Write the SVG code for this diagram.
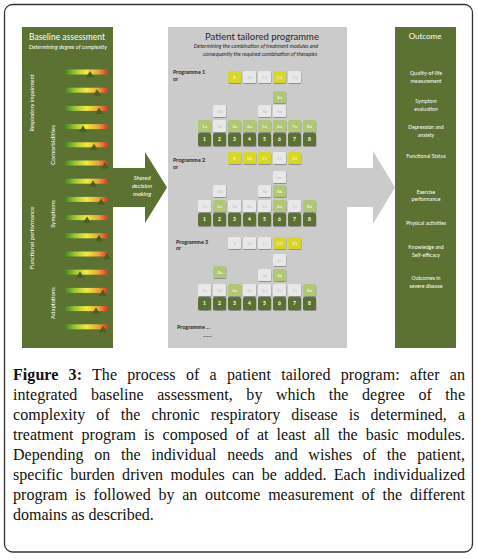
<svg xmlns="http://www.w3.org/2000/svg" width="477" height="559" viewBox="0 0 477 559">
<defs>
<linearGradient id="bar" x1="0" y1="0" x2="1" y2="0">
<stop offset="0" stop-color="#3f8a1e"/>
<stop offset="0.25" stop-color="#a7c834"/>
<stop offset="0.5" stop-color="#f2ea3c"/>
<stop offset="0.78" stop-color="#eba23a"/>
<stop offset="1" stop-color="#d8332a"/>
</linearGradient>
<linearGradient id="shine" x1="0" y1="0" x2="0" y2="1">
<stop offset="0" stop-color="#fff" stop-opacity="0.35"/>
<stop offset="0.5" stop-color="#fff" stop-opacity="0"/>
<stop offset="1" stop-color="#000" stop-opacity="0.15"/>
</linearGradient>
<filter id="sh" x="-20%" y="-20%" width="150%" height="160%">
<feDropShadow dx="0.4" dy="1" stdDeviation="0.6" flood-color="#000" flood-opacity="0.3"/>
</filter>
</defs>
<style>
.green{fill:#5b7232}
.gray{fill:#cbcbcb}
.wt{fill:#ffffff;font-family:Lato,"Liberation Sans",sans-serif}
.dk{fill:#262626;font-family:Lato,"Liberation Sans",sans-serif}
.bd{fill:#5a7130;filter:url(#sh)}
.bl{fill:#b2c773;filter:url(#sh)}
.by{fill:#d9d62b;filter:url(#sh)}
.bw{fill:#e8e8e8;filter:url(#sh)}
.tb{fill:#ffffff;font-family:Lato,"Liberation Sans",sans-serif;font-size:4.6px;text-anchor:middle}
.tw{fill:#c4c4c4;font-family:Lato,"Liberation Sans",sans-serif;font-size:4.6px;text-anchor:middle}
.tk{fill:#ffffff;font-family:Lato,"Liberation Sans",sans-serif;font-size:5px;font-weight:bold;text-anchor:middle}
.bar{fill:url(#bar)}
.mk{fill:#4b5f22}
.cap{font-family:"Liberation Serif",serif;font-size:16px;fill:#111}
</style>
<rect x="4.5" y="4.5" width="468" height="547.5" rx="8" fill="#fff" stroke="#333" stroke-width="1.3"/>

<g id="connectors">
<polygon class="green" points="112,168 145,168 145,152 167,187.5 145,223 145,207 112,207"/>
<polygon class="gray" points="346,168 373,168 373,151 395,187.5 373,224 373,207 346,207"/>
<text class="wt" font-size="6" font-style="italic" text-anchor="middle"><tspan x="142" y="179.5">Shared</tspan><tspan x="142" y="187.5">decision</tspan><tspan x="142" y="195.5">making</tspan></text>
</g>

<g id="baseline">
<rect class="green" x="22" y="27" width="91" height="321"/>
<text class="wt" x="67" y="40" font-size="8.5" text-anchor="middle">Baseline assessment</text>
<text class="wt" x="68" y="49" font-size="5.6" font-style="italic" text-anchor="middle">Determining degree of complexity</text>
<text class="wt" font-size="5.6" text-anchor="middle" transform="translate(34,103) rotate(-90)">Respiratory impairment</text>
<text class="wt" font-size="6.5" text-anchor="middle" transform="translate(55,145) rotate(-90)">Comorbidities</text>
<text class="wt" font-size="6" text-anchor="middle" transform="translate(34,238) rotate(-90)">Functional performance</text>
<text class="wt" font-size="6" text-anchor="middle" transform="translate(55,214) rotate(-90)">Symptoms</text>
<text class="wt" font-size="6" text-anchor="middle" transform="translate(55,303) rotate(-90)">Adaptations</text>
<g id="bars">
<rect class="bar" x="65" y="69.5" width="43" height="5"/><polygon class="mk" points="90,71 86,77.5 94,77.5"/>
<rect class="bar" x="65" y="87.7" width="43" height="5"/><polygon class="mk" points="97,89.2 93,95.7 101,95.7"/>
<rect class="bar" x="65" y="105.9" width="43" height="5"/><polygon class="mk" points="99,107.4 95,113.9 103,113.9"/>
<rect class="bar" x="65" y="124.1" width="43" height="5"/><polygon class="mk" points="83,125.6 79,132.1 87,132.1"/>
<rect class="bar" x="65" y="142.3" width="43" height="5"/><polygon class="mk" points="94,143.8 90,150.3 98,150.3"/>
<rect class="bar" x="65" y="160.5" width="43" height="5"/><polygon class="mk" points="105,162 101,168.5 109,168.5"/>
<rect class="bar" x="65" y="178.7" width="43" height="5"/><polygon class="mk" points="93,180.2 89,186.7 97,186.7"/>
<rect class="bar" x="65" y="196.9" width="43" height="5"/><polygon class="mk" points="101,198.4 97,204.9 105,204.9"/>
<rect class="bar" x="65" y="215.1" width="43" height="5"/><polygon class="mk" points="87,216.6 83,223.1 91,223.1"/>
<rect class="bar" x="65" y="233.3" width="43" height="5"/><polygon class="mk" points="99,234.8 95,241.3 103,241.3"/>
<rect class="bar" x="65" y="251.5" width="43" height="5"/><polygon class="mk" points="107,253 103,259.5 111,259.5"/>
<rect class="bar" x="65" y="269.7" width="43" height="5"/><polygon class="mk" points="80,271.2 76,277.7 84,277.7"/>
<rect class="bar" x="65" y="287.9" width="43" height="5"/><polygon class="mk" points="103,289.4 99,295.9 107,295.9"/>
<rect class="bar" x="65" y="306.1" width="43" height="5"/><polygon class="mk" points="96,307.6 92,314.1 100,314.1"/>
<rect class="bar" x="65" y="324.3" width="43" height="5"/><polygon class="mk" points="103,325.8 99,332.3 107,332.3"/>
</g>
</g>

<g id="programme">
<rect class="gray" x="168" y="27" width="179" height="321"/>
<text class="dk" x="262" y="40" font-size="9.5" text-anchor="middle">Patient tailored programme</text>
<text class="dk" font-size="5.4" font-style="italic" text-anchor="middle"><tspan x="256" y="48">Determining the combination of treatment modules and</tspan><tspan x="260" y="55.5">consequently the required combination of therapies</tspan></text>

<g id="prog1">
<text class="dk" font-size="5.4" font-weight="bold"><tspan x="173" y="74">Programme 1</tspan><tspan x="173" y="80.5">or</tspan></text>
<rect class="by" x="228" y="71" width="13" height="12" rx="1.5"/><text class="tb" x="234.5" y="78.6">9</text>
<rect class="bw" x="243" y="71" width="13" height="12" rx="1.5"/><text class="tw" x="249.5" y="78.6">10</text>
<rect class="bw" x="258" y="71" width="13" height="12" rx="1.5"/><text class="tw" x="264.5" y="78.6">11</text>
<rect class="by" x="273" y="71" width="13" height="12" rx="1.5"/><text class="tb" x="279.5" y="78.6">12</text>
<rect class="bw" x="288" y="71" width="13" height="12" rx="1.5"/><text class="tw" x="294.5" y="78.6">13</text>
<rect class="bl" x="273" y="91" width="13" height="12" rx="1.5"/><text class="tb" x="279.5" y="98.6">6c</text>
<rect class="bw" x="213" y="105" width="13" height="12" rx="1.5"/><text class="tw" x="219.5" y="112.6">2b</text>
<rect class="bw" x="258" y="105" width="13" height="12" rx="1.5"/><text class="tw" x="264.5" y="112.6">5b</text>
<rect class="bw" x="273" y="105" width="13" height="12" rx="1.5"/><text class="tw" x="279.5" y="112.6">6b</text>
<rect class="bl" x="198" y="120" width="13" height="12" rx="1.5"/><text class="tb" x="204.5" y="127.6">1a</text>
<rect class="bw" x="213" y="120" width="13" height="12" rx="1.5"/><text class="tw" x="219.5" y="127.6">2a</text>
<rect class="bl" x="228" y="120" width="13" height="12" rx="1.5"/><text class="tb" x="234.5" y="127.6">3a</text>
<rect class="bl" x="243" y="120" width="13" height="12" rx="1.5"/><text class="tb" x="249.5" y="127.6">4a</text>
<rect class="bl" x="258" y="120" width="13" height="12" rx="1.5"/><text class="tb" x="264.5" y="127.6">5a</text>
<rect class="bl" x="273" y="120" width="13" height="12" rx="1.5"/><text class="tb" x="279.5" y="127.6">6a</text>
<rect class="bl" x="288" y="120" width="13" height="12" rx="1.5"/><text class="tb" x="294.5" y="127.6">7a</text>
<rect class="bl" x="303" y="120" width="13" height="12" rx="1.5"/><text class="tb" x="309.5" y="127.6">8a</text>
<rect class="bd" x="198" y="133" width="13" height="13" rx="1.5"/><text class="tk" x="204.5" y="141.2">1</text>
<rect class="bd" x="213" y="133" width="13" height="13" rx="1.5"/><text class="tk" x="219.5" y="141.2">2</text>
<rect class="bd" x="228" y="133" width="13" height="13" rx="1.5"/><text class="tk" x="234.5" y="141.2">3</text>
<rect class="bd" x="243" y="133" width="13" height="13" rx="1.5"/><text class="tk" x="249.5" y="141.2">4</text>
<rect class="bd" x="258" y="133" width="13" height="13" rx="1.5"/><text class="tk" x="264.5" y="141.2">5</text>
<rect class="bd" x="273" y="133" width="13" height="13" rx="1.5"/><text class="tk" x="279.5" y="141.2">6</text>
<rect class="bd" x="288" y="133" width="13" height="13" rx="1.5"/><text class="tk" x="294.5" y="141.2">7</text>
<rect class="bd" x="303" y="133" width="13" height="13" rx="1.5"/><text class="tk" x="309.5" y="141.2">8</text>
</g>

<g id="prog2">
<text class="dk" font-size="5.4" font-weight="bold"><tspan x="173" y="162">Programme 2</tspan><tspan x="173" y="168.5">or</tspan></text>
<rect class="by" x="228" y="152" width="13" height="12" rx="1.5"/><text class="tb" x="234.5" y="159.6">9</text>
<rect class="by" x="243" y="152" width="13" height="12" rx="1.5"/><text class="tb" x="249.5" y="159.6">10</text>
<rect class="by" x="258" y="152" width="13" height="12" rx="1.5"/><text class="tb" x="264.5" y="159.6">11</text>
<rect class="bw" x="273" y="152" width="13" height="12" rx="1.5"/><text class="tw" x="279.5" y="159.6">12</text>
<rect class="by" x="288" y="152" width="13" height="12" rx="1.5"/><text class="tb" x="294.5" y="159.6">13</text>
<rect class="bw" x="273" y="171" width="13" height="12" rx="1.5"/><text class="tw" x="279.5" y="178.6">6c</text>
<rect class="bw" x="213" y="185" width="13" height="12" rx="1.5"/><text class="tw" x="219.5" y="192.6">2b</text>
<rect class="bw" x="258" y="185" width="13" height="12" rx="1.5"/><text class="tw" x="264.5" y="192.6">5b</text>
<rect class="bl" x="273" y="185" width="13" height="12" rx="1.5"/><text class="tb" x="279.5" y="192.6">6b</text>
<rect class="bw" x="198" y="200" width="13" height="12" rx="1.5"/><text class="tw" x="204.5" y="207.6">1a</text>
<rect class="bl" x="213" y="200" width="13" height="12" rx="1.5"/><text class="tb" x="219.5" y="207.6">2a</text>
<rect class="bw" x="228" y="200" width="13" height="12" rx="1.5"/><text class="tw" x="234.5" y="207.6">3a</text>
<rect class="bw" x="243" y="200" width="13" height="12" rx="1.5"/><text class="tw" x="249.5" y="207.6">4a</text>
<rect class="bw" x="258" y="200" width="13" height="12" rx="1.5"/><text class="tw" x="264.5" y="207.6">5a</text>
<rect class="bl" x="273" y="200" width="13" height="12" rx="1.5"/><text class="tb" x="279.5" y="207.6">6a</text>
<rect class="bw" x="288" y="200" width="13" height="12" rx="1.5"/><text class="tw" x="294.5" y="207.6">7a</text>
<rect class="bl" x="303" y="200" width="13" height="12" rx="1.5"/><text class="tb" x="309.5" y="207.6">8a</text>
<rect class="bd" x="198" y="213" width="13" height="13" rx="1.5"/><text class="tk" x="204.5" y="221.2">1</text>
<rect class="bd" x="213" y="213" width="13" height="13" rx="1.5"/><text class="tk" x="219.5" y="221.2">2</text>
<rect class="bd" x="228" y="213" width="13" height="13" rx="1.5"/><text class="tk" x="234.5" y="221.2">3</text>
<rect class="bd" x="243" y="213" width="13" height="13" rx="1.5"/><text class="tk" x="249.5" y="221.2">4</text>
<rect class="bd" x="258" y="213" width="13" height="13" rx="1.5"/><text class="tk" x="264.5" y="221.2">5</text>
<rect class="bd" x="273" y="213" width="13" height="13" rx="1.5"/><text class="tk" x="279.5" y="221.2">6</text>
<rect class="bd" x="288" y="213" width="13" height="13" rx="1.5"/><text class="tk" x="294.5" y="221.2">7</text>
<rect class="bd" x="303" y="213" width="13" height="13" rx="1.5"/><text class="tk" x="309.5" y="221.2">8</text>
</g>

<g id="prog3">
<text class="dk" font-size="5.4" font-weight="bold"><tspan x="176" y="243.5">Programme 3</tspan><tspan x="176" y="250">or</tspan></text>
<rect class="bw" x="228" y="237" width="13" height="12" rx="1.5"/><text class="tw" x="234.5" y="244.6">9</text>
<rect class="bw" x="243" y="237" width="13" height="12" rx="1.5"/><text class="tw" x="249.5" y="244.6">10</text>
<rect class="bw" x="258" y="237" width="13" height="12" rx="1.5"/><text class="tw" x="264.5" y="244.6">11</text>
<rect class="by" x="273" y="237" width="13" height="12" rx="1.5"/><text class="tb" x="279.5" y="244.6">12</text>
<rect class="by" x="288" y="237" width="13" height="12" rx="1.5"/><text class="tb" x="294.5" y="244.6">13</text>
<rect class="bw" x="273" y="254" width="13" height="12" rx="1.5"/><text class="tw" x="279.5" y="261.6">6c</text>
<rect class="bl" x="213" y="266" width="13" height="12" rx="1.5"/><text class="tb" x="219.5" y="273.6">2b</text>
<rect class="bw" x="258" y="269" width="13" height="12" rx="1.5"/><text class="tw" x="264.5" y="276.6">5b</text>
<rect class="bl" x="273" y="269" width="13" height="12" rx="1.5"/><text class="tb" x="279.5" y="276.6">6b</text>
<rect class="bw" x="198" y="284" width="13" height="12" rx="1.5"/><text class="tw" x="204.5" y="291.6">1a</text>
<rect class="bw" x="213" y="284" width="13" height="12" rx="1.5"/><text class="tw" x="219.5" y="291.6">2a</text>
<rect class="bl" x="228" y="284" width="13" height="12" rx="1.5"/><text class="tb" x="234.5" y="291.6">3a</text>
<rect class="bw" x="243" y="284" width="13" height="12" rx="1.5"/><text class="tw" x="249.5" y="291.6">4a</text>
<rect class="bw" x="258" y="284" width="13" height="12" rx="1.5"/><text class="tw" x="264.5" y="291.6">5a</text>
<rect class="bw" x="273" y="284" width="13" height="12" rx="1.5"/><text class="tw" x="279.5" y="291.6">6a</text>
<rect class="bw" x="288" y="284" width="13" height="12" rx="1.5"/><text class="tw" x="294.5" y="291.6">7a</text>
<rect class="bl" x="303" y="284" width="13" height="12" rx="1.5"/><text class="tb" x="309.5" y="291.6">8a</text>
<rect class="bd" x="198" y="297" width="13" height="13" rx="1.5"/><text class="tk" x="204.5" y="305.2">1</text>
<rect class="bd" x="213" y="297" width="13" height="13" rx="1.5"/><text class="tk" x="219.5" y="305.2">2</text>
<rect class="bd" x="228" y="297" width="13" height="13" rx="1.5"/><text class="tk" x="234.5" y="305.2">3</text>
<rect class="bd" x="243" y="297" width="13" height="13" rx="1.5"/><text class="tk" x="249.5" y="305.2">4</text>
<rect class="bd" x="258" y="297" width="13" height="13" rx="1.5"/><text class="tk" x="264.5" y="305.2">5</text>
<rect class="bd" x="273" y="297" width="13" height="13" rx="1.5"/><text class="tk" x="279.5" y="305.2">6</text>
<rect class="bd" x="288" y="297" width="13" height="13" rx="1.5"/><text class="tk" x="294.5" y="305.2">7</text>
<rect class="bd" x="303" y="297" width="13" height="13" rx="1.5"/><text class="tk" x="309.5" y="305.2">8</text>
</g>

<g id="prog-more">
<text class="dk" x="177" y="329" font-size="5.4" font-weight="bold">Programme ...</text>
<text class="dk" x="203" y="337" font-size="5.4" font-weight="bold">.......</text>
</g>
</g>

<g id="outcome">
<rect class="green" x="395" y="27" width="61" height="321"/>
<text class="wt" x="425" y="39" font-size="8" text-anchor="middle">Outcome</text>
<g font-size="5.2" text-anchor="middle">
<text class="wt"><tspan x="426" y="75">Quality-of-life</tspan><tspan x="426" y="82.5">measurement</tspan></text>
<text class="wt"><tspan x="426" y="103">Symptom</tspan><tspan x="426" y="110.5">evaluation</tspan></text>
<text class="wt"><tspan x="426" y="129">Depression and</tspan><tspan x="426" y="136.5">anxiety</tspan></text>
<text class="wt" x="426" y="158">Functional Status</text>
<text class="wt"><tspan x="426" y="194">Exercise</tspan><tspan x="426" y="201">performance</tspan></text>
<text class="wt" x="426" y="225">Physical activities</text>
<text class="wt"><tspan x="426" y="249">Knowledge and</tspan><tspan x="426" y="256.5">Self-efficacy</tspan></text>
<text class="wt"><tspan x="426" y="280">Outcomes in</tspan><tspan x="426" y="287.5">severe disease</tspan></text>
</g>
</g>

<g id="caption" class="cap">
<text x="13" y="380" textLength="452" lengthAdjust="spacing" word-spacing="6.2"><tspan font-weight="bold">Figure 3:</tspan> The process of a patient tailored program: after an</text>
<text x="13" y="400" textLength="452" lengthAdjust="spacing" word-spacing="9.5">integrated baseline assessment, by which the degree of the</text>
<text x="13" y="420" textLength="452" lengthAdjust="spacing" word-spacing="7">complexity of the chronic respiratory disease is determined, a</text>
<text x="13" y="440" textLength="452" lengthAdjust="spacing" word-spacing="4">treatment program is composed of at least all the basic modules.</text>
<text x="13" y="460" textLength="452" lengthAdjust="spacing" word-spacing="6.6">Depending on the individual needs and wishes of the patient,</text>
<text x="13" y="480" textLength="452" lengthAdjust="spacing" word-spacing="3.3">specific burden driven modules can be added. Each individualized</text>
<text x="13" y="500" textLength="452" lengthAdjust="spacing" word-spacing="3.7">program is followed by an outcome measurement of the different</text>
<text x="13" y="520">domains as described.</text>
</g>
</svg>
